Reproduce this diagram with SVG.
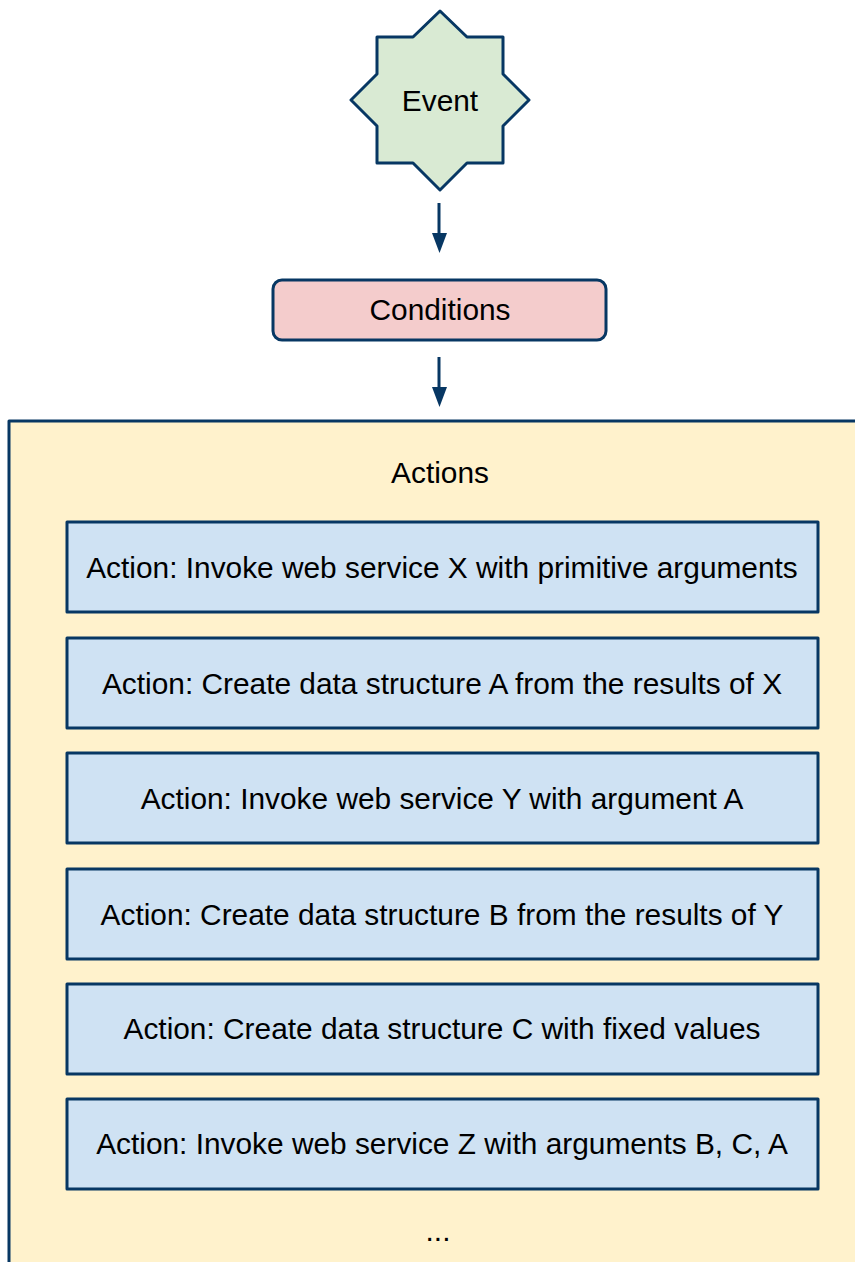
<svg xmlns="http://www.w3.org/2000/svg" width="855" height="1262" viewBox="0 0 855 1262">
<defs>
<style>
.s{stroke:#073763;stroke-width:3;stroke-linejoin:round}
.t{font-family:"Liberation Sans",Arial,sans-serif;font-size:29.85px;fill:#000;text-anchor:middle;dominant-baseline:central}
.act{fill:#cfe2f3}
.c{stroke:#073763;stroke-width:3;fill:none}
.h{fill:#073763}
</style>
</defs>
<rect width="855" height="1262" fill="#fff"/>
<g id="actions">
<rect class="s" x="9" y="421" width="860" height="860" fill="#fff2cc"/>
<text class="t" x="440" y="472">Actions</text>
<text class="t" x="438" y="1230">...</text>
</g>
<g id="event">
<polygon class="s" fill="#d9ead3" points="440,11 467,37 503,37 503,74 529,100 503,126 503,163 467,163 440,190 413,163 377,163 377,126 351,100 377,74 377,37 413,37"/>
<text class="t" x="440" y="100">Event</text>
</g>
<g id="conditions">
<rect class="s" x="273" y="280" width="333" height="60" rx="9" fill="#f4cccc"/>
<text class="t" x="440" y="309">Conditions</text>
</g>
<g id="a1"><rect class="s act" x="67" y="522" width="751" height="90"/><text class="t" x="442" y="567">Action: Invoke web service X with primitive arguments</text></g>
<g id="a2"><rect class="s act" x="67" y="638" width="751" height="90"/><text class="t" x="442" y="683">Action: Create data structure A from the results of X</text></g>
<g id="a3"><rect class="s act" x="67" y="753" width="751" height="90"/><text class="t" x="442" y="798">Action: Invoke web service Y with argument A</text></g>
<g id="a4"><rect class="s act" x="67" y="869" width="751" height="90"/><text class="t" x="442" y="914">Action: Create data structure B from the results of Y</text></g>
<g id="a5"><rect class="s act" x="67" y="984" width="751" height="90"/><text class="t" x="442" y="1028">Action: Create data structure C with fixed values</text></g>
<g id="a6"><rect class="s act" x="67" y="1099" width="751" height="90"/><text class="t" x="442" y="1143">Action: Invoke web service Z with arguments B, C, A</text></g>
<g id="connectors">
<line class="c" x1="439" y1="203" x2="439" y2="236"/>
<polygon class="h" points="432,233 447,233 439.5,253"/>
<line class="c" x1="439" y1="357" x2="439" y2="390"/>
<polygon class="h" points="432,387 447,387 439.5,407"/>
</g>
</svg>
